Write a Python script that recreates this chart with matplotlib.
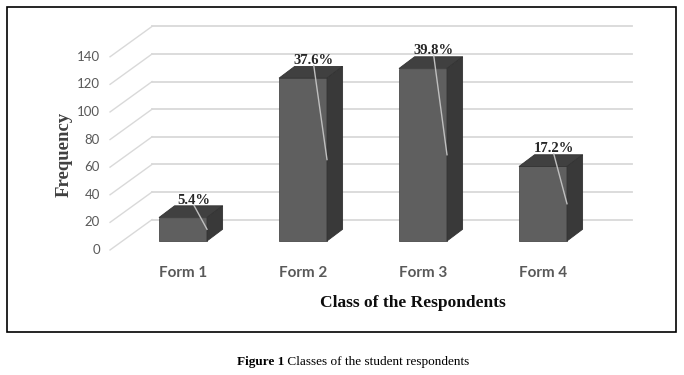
import matplotlib
matplotlib.use('Agg')
import matplotlib.pyplot as plt
from matplotlib.patches import Polygon, Rectangle
import numpy as np

categories = ['Form 1', 'Form 2', 'Form 3', 'Form 4']
frequency = [17, 118, 125, 54]
percent_labels = ['5.4%', '37.6%', '39.8%', '17.2%']
y_ticks = [0, 20, 40, 60, 80, 100, 120, 140]

# 3d look, in data units (x: category, y: frequency)
bar_w = 0.4
bar_dx, bar_dy = 0.13, 8.5        # depth of the bars
wall_front = (-0.10, -6.5)        # side wall front edge relative to bar front plane
wall_back = (0.25, 15.5)          # back wall relative to bar front plane
wall_left = -0.608
wall_right = 3.742

front_col = '#5f5f5f'
top_col = '#404040'
side_col = '#393939'
grid_col = '#d9d9d9'

fig = plt.figure(figsize=(6.84, 3.75), dpi=100)
# axes: 1 category = 120 px, 1 unit = 1.38 px
ax = fig.add_axes([100 / 684, 110 / 375, 550 / 684, 250 / 375])
ax.set_xlim((100 - 183) / 120, (650 - 183) / 120)
ax.set_ylim((241 - 265) / 1.38, (241 - 15) / 1.38)
ax.axis('off')

# back wall gridlines + side wall diagonals
for v in y_ticks:
    yb = v + wall_back[1]
    yf = v + wall_front[1]
    ax.plot([wall_left + 0.35, wall_right], [yb, yb], color=grid_col, lw=1.3, zorder=1)
    ax.plot([wall_left, wall_left + 0.35], [yf, yb], color=grid_col, lw=1.0, zorder=1)
    ax.text(wall_left - 0.085, yf, str(v), ha='right', va='center', fontsize=9.5,
            color='#595959', family='Lato', clip_on=False)

x = np.arange(len(categories))
ax.bar(x, frequency, width=bar_w, color=front_col, edgecolor='#4a4a4a', lw=0.6, zorder=3)
for xi, v, lab in zip(x, frequency, percent_labels):
    l, r = xi - bar_w / 2, xi + bar_w / 2
    top = Polygon([(l, v), (r, v), (r + bar_dx, v + bar_dy), (l + bar_dx, v + bar_dy)],
                  closed=True, facecolor=top_col, edgecolor='#333333', lw=0.6, zorder=3)
    side = Polygon([(r, 0), (r + bar_dx, bar_dy), (r + bar_dx, v + bar_dy), (r, v)],
                   closed=True, facecolor=side_col, edgecolor='#333333', lw=0.6, zorder=3)
    ax.add_patch(top)
    ax.add_patch(side)
    lx, ly = xi + 0.09, v + bar_dy - 0.5
    ax.text(lx, ly, lab, ha='center', va='bottom', fontsize=10.5, fontweight='bold',
            family='Liberation Serif', color='#262626', zorder=5)
    ax.plot([lx, r], [ly + 1, v / 2], color='#bfbfbf', lw=1.0, zorder=4)
    ax.text(xi, -23.5, categories[xi], ha='center', va='center', fontsize=11,
            fontweight='bold', family='Lato', color='#595959', clip_on=False)

fig.text(413 / 684, 1 - 303 / 375, 'Class of the Respondents', ha='center', va='center',
         fontsize=12.5, fontweight='bold', family='Liberation Serif', color='#0d0d0d')
fig.text(64 / 684, 1 - 154 / 375, 'Frequency', ha='center', va='center', rotation=90,
         fontsize=13.5, fontweight='bold', family='Liberation Serif', color='#404040')

# frame
fig.patches.append(Rectangle((7 / 684, 1 - 332 / 375), 669 / 684, 325 / 375,
                             transform=fig.transFigure, fill=False, edgecolor='black', lw=1.2))

# caption
cap = fig.text(237 / 684, 1 - 362 / 375, 'Figure 1', ha='left', va='center', fontsize=9.5,
               fontweight='bold', family='Liberation Serif')
ax.annotate(' Classes of the student respondents', xy=(1, 0.5), xycoords=cap,
            ha='left', va='center', fontsize=9.5, family='Liberation Serif',
            annotation_clip=False)

fig.savefig('out.png', dpi=100)
